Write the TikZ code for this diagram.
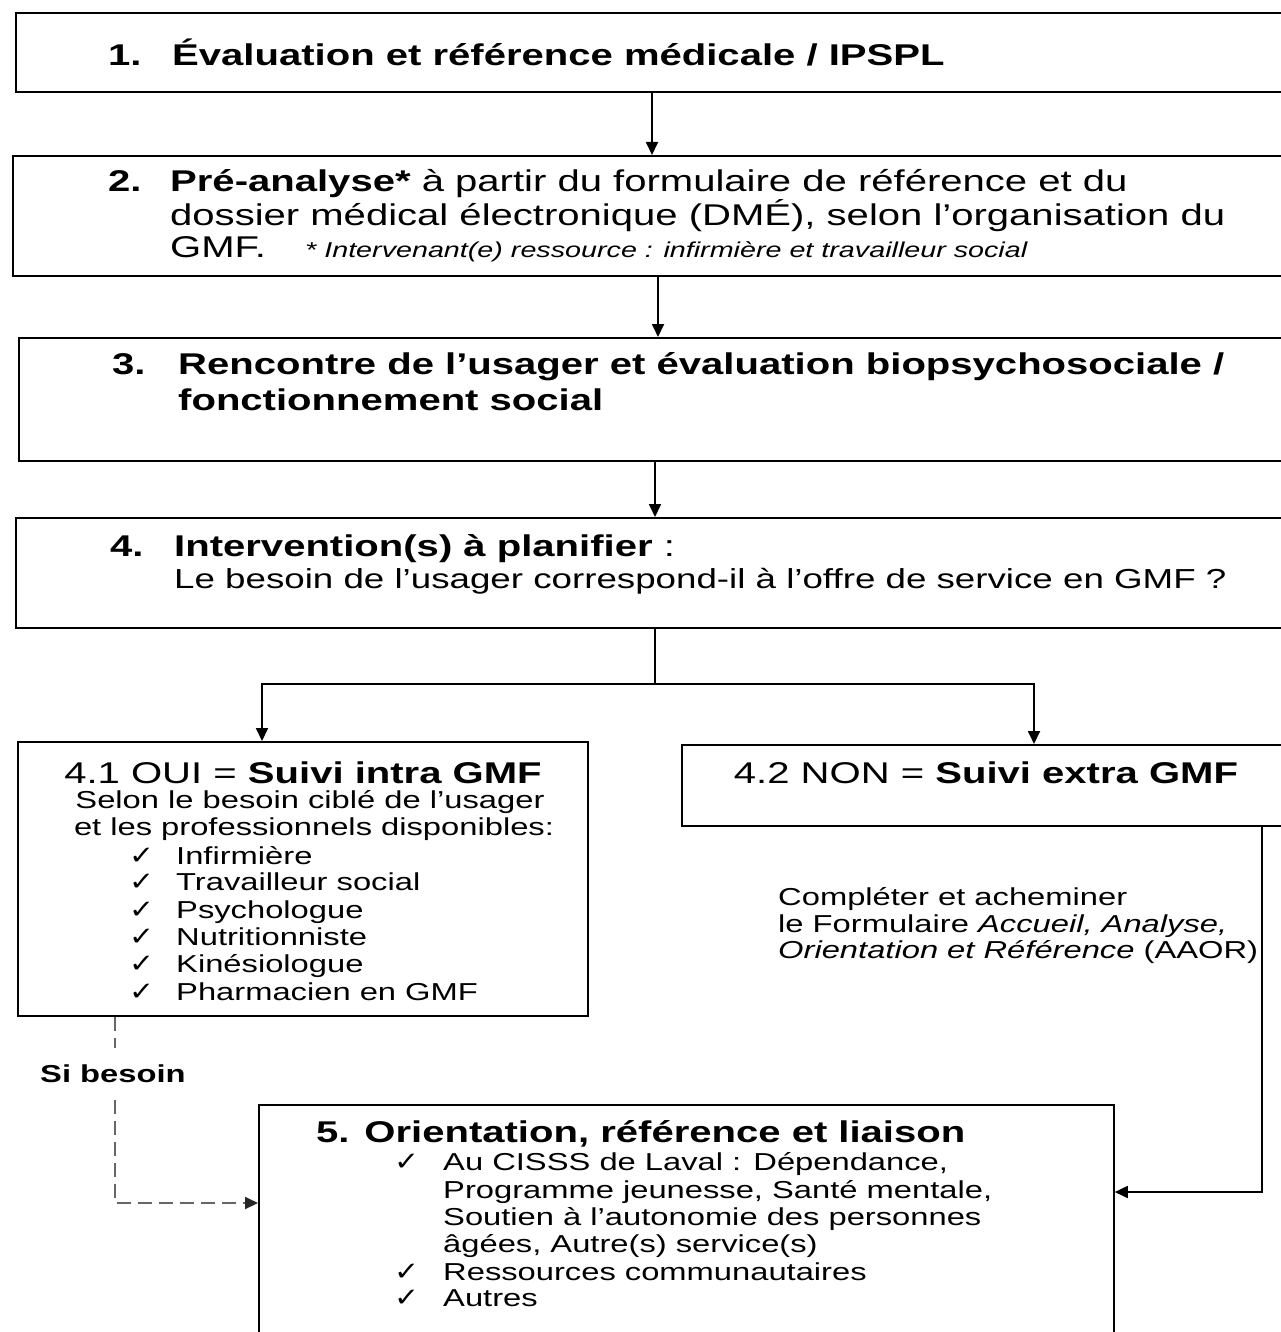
\documentclass[tikz,border=0pt]{standalone}
\usepackage{fontspec}
\setmainfont{Liberation Sans}[FakeStretch=1.335]
\newfontfamily\symbolfont{DejaVu Sans}[FakeStretch=1.15]
\usetikzlibrary{arrows.meta,calc}
\begin{document}
\begin{tikzpicture}[x=1pt,y=-1pt,
  box/.style={draw=black,line width=1.8pt,rectangle,inner sep=0pt,anchor=north west},
  txt/.style={anchor=base west,inner sep=0pt,text=black},
  tip/.style={-{Triangle[length=13pt,width=12pt]}},
  arr/.style={line width=1.8pt,tip},
  link/.style={line width=1.8pt},
  dsh/.style={line width=2pt,draw=black!60,dash pattern=on 14pt off 7pt},
  chk/.style={txt,font=\fontsize{26}{28}\selectfont\symbolfont},
  big/.style={font=\fontsize{30}{34}\selectfont},
  mid/.style={font=\fontsize{27.5}{31}\selectfont},
  sml/.style={font=\fontsize{24.5}{27}\selectfont}]
\useasboundingbox (0,0) rectangle (1281,1332);
% boxes
\node[box,minimum width=1300pt,minimum height=79pt] (b1) at (15,12) {};
\node[box,minimum width=1300pt,minimum height=120pt] (b2) at (12,155) {};
\node[box,minimum width=1300pt,minimum height=123pt] (b3) at (18,337) {};
\node[box,minimum width=1300pt,minimum height=110pt] (b4) at (15,517) {};
\node[box,minimum width=570pt,minimum height=274pt] (b41) at (17,741) {};
\node[box,minimum width=650pt,minimum height=81pt] (b42) at (681,744) {};
\node[box,minimum width=855pt,minimum height=260pt] (b5) at (258,1104) {};
% x guides
\coordinate (xa) at (652,0);
\coordinate (xb) at (658,0);
\coordinate (xc) at (655,0);
\coordinate (xl) at (262,0);
\coordinate (xr) at (1034,0);
\coordinate (xs) at (115,0);
\coordinate (xn) at (1262,0);
\coordinate (split) at (655,684);
\coordinate (dl) at (115,1048);
\coordinate (dm) at (115,1100);
\coordinate (dc) at (115,1203);
\coordinate (rc) at (1262,1192);
% texts
\node[txt,big] (t1a) at (108,66) {\textbf{1.}};
\node[txt,big] (t1) at (172,66) {\textbf{Évaluation et référence médicale / IPSPL}};
\node[txt,big] (t2a) at (108,192) {\textbf{2.}};
\node[txt,big] (t2b) at (170,192) {\textbf{Pré-analyse*} à partir du formulaire de référence et du};
\node[txt,big] (t2c) at (170,226) {dossier médical électronique (DMÉ), selon l’organisation du};
\node[txt,big] (t2d) at (170,258) {GMF.};
\node[txt,font=\fontsize{21.5}{24}\selectfont\itshape] (t2e) at (305,258) {* Intervenant(e) ressource : infirmière et travailleur social};
\node[txt,big] (t3a) at (112,374) {\textbf{3.}};
\node[txt,big] (t3b) at (178,374) {\textbf{Rencontre de l’usager et évaluation biopsychosociale /}};
\node[txt,big] (t3c) at (178,410) {\textbf{fonctionnement social}};
\node[txt,big] (t4a) at (110,556) {\textbf{4.}};
\node[txt,big] (t4b) at (174,556) {\textbf{Intervention(s) à planifier} :};
\node[txt,mid] (t4c) at (174,588) {Le besoin de l’usager correspond-il à l’offre de service en GMF ?};
\node[anchor=base,inner sep=0pt,big] (t41) at (303,783) {4.1 OUI = \textbf{Suivi intra GMF}};
\node[anchor=base,inner sep=0pt,sml] (t41a) at (310,808) {Selon le besoin ciblé de l’usager};
\node[anchor=base,inner sep=0pt,sml] (t41b) at (314,835) {et les professionnels disponibles:};
\foreach \y/\t [count=\i] in {864/Infirmière,890/Travailleur social,918/Psychologue,945/Nutritionniste,972/Kinésiologue,1000/Pharmacien en GMF}{
  \node[chk] (c\i) at (129,\y) {✓};
  \node[txt,sml] (l\i) at (176,\y) {\t};
}
\node[anchor=base,inner sep=0pt,big] (t42) at (986,783) {4.2 NON = \textbf{Suivi extra GMF}};
\node[txt,sml] (tc1) at (778,905) {Compléter et acheminer};
\node[txt,sml] (tc2) at (778,932) {le Formulaire \textit{Accueil, Analyse,}};
\node[txt,sml] (tc3) at (778,958) {\textit{Orientation et Référence} (AAOR)};
\node[txt,font=\fontsize{24.5}{27}\selectfont\bfseries] (sb) at (40,1082) {Si besoin};
\node[txt,big] (t5) at (316,1142) {\textbf{5. Orientation, référence et liaison}};
\foreach \y/\t [count=\i] in {1170/{Au CISSS de Laval : Dépendance,},1252/{âgées, Autre(s) service(s)},1280/Ressources communautaires,1306/Autres}{
  \ifnum\i=2\else\node[chk] (d\i) at (394,\y) {✓};\fi
  \node[txt,sml] (e\i) at (443,\y) {\t};
}
\node[txt,sml] (e5) at (443,1198) {Programme jeunesse, Santé mentale,};
\node[txt,sml] (e6) at (443,1225) {Soutien à l’autonomie des personnes};
% connectors
\draw[arr] (b1.south -| xa) -- (b2.north -| xa);
\draw[arr] (b2.south -| xb) -- (b3.north -| xb);
\draw[arr] (b3.south -| xc) -- (b4.north -| xc);
\draw[link] (b4.south -| split) -- (split);
\draw[arr] (split) -| (b41.north -| xl);
\draw[arr] (split) -| (b42.north -| xr);
\draw[arr] (b42.south -| xn) -- (rc) -- (b5.east |- rc);
\draw[dsh] (b41.south -| xs) -- (dl);
\draw[dsh,-{Triangle[length=13pt,width=12pt,color=black!85]}] (dm) -- (dc) -- (b5.west |- dc);
\end{tikzpicture}
\end{document}
